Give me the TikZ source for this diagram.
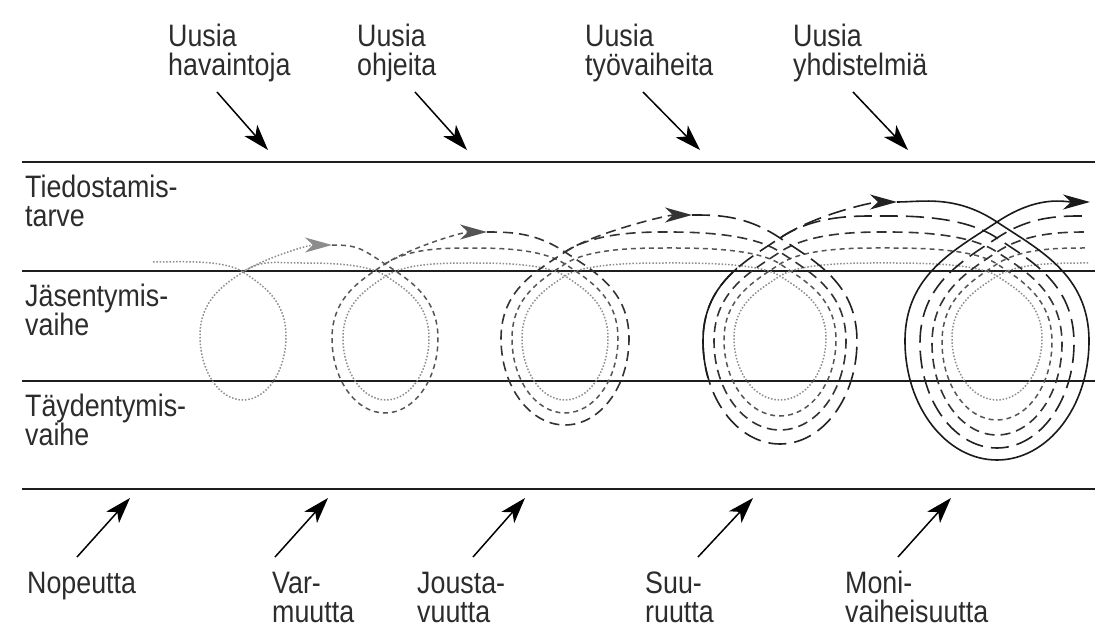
\documentclass[tikz,border=0pt]{standalone}
\usepackage{fontspec}
\setmainfont{Liberation Sans}[FakeStretch=0.865]
\usetikzlibrary{arrows.meta}
\definecolor{txtc}{HTML}{2C2C2C}
\definecolor{framec}{HTML}{1E1E1E}
\definecolor{dotc}{HTML}{8C8C8C}
\definecolor{finec}{HTML}{555555}
\definecolor{medc}{HTML}{333333}
\definecolor{longc}{HTML}{222222}
\definecolor{solc}{HTML}{1A1A1A}
% loop: cx, r, y of crossing, y of bottom, next point x, next point y
\newcommand\myloop[6]{%
 .. controls +(25,0) and +({-0.45*#2},{-0.3*#2}) .. (#1,#3)
 .. controls +({0.45*#2},{0.3*#2}) and ({#1+#2},{(#3+#4)/2-0.28*(#4-#3)}) .. ({#1+#2},{(#3+#4)/2})
 .. controls ({#1+#2},{(#3+#4)/2+0.276*(#4-#3)}) and ({#1+0.552*#2},{#4}) .. (#1,#4)
 .. controls ({#1-0.552*#2},{#4}) and ({#1-#2},{(#3+#4)/2+0.276*(#4-#3)}) .. ({#1-#2},{(#3+#4)/2})
 .. controls ({#1-#2},{(#3+#4)/2-0.28*(#4-#3)}) and +({-0.45*#2},{0.3*#2}) .. (#1,#3)
 .. controls +({0.45*#2},{-0.3*#2}) and +(-25,0) .. (#5,#6)}
\newcommand\twolines[2]{\vtop{\hbox{#1}\hbox{#2}}}
\begin{document}
\begin{tikzpicture}[x=1pt,y=-1pt,
  frame/.style={draw=framec, line width=2pt},
  lbl/.style={anchor=base west, inner sep=0pt, text=txtc, font=\fontsize{31}{29}\selectfont},
  ptr/.style={draw=black, line width=1.5pt, -{Stealth[length=26pt,width=17pt,inset=7pt]}},
  dotS/.style={draw=dotc, line width=1.5pt, dash pattern=on 1.5pt off 1.8pt},
  fineS/.style={draw=finec, line width=1.5pt, dash pattern=on 5pt off 4pt},
  medS/.style={draw=medc, line width=1.6pt, dash pattern=on 10pt off 6pt},
  longS/.style={draw=longc, line width=1.6pt, dash pattern=on 18pt off 8pt},
  solS/.style={draw=solc, line width=1.6pt},
  tipA/.style={-{Stealth[length=27pt,width=15pt,inset=8pt]}}]
\useasboundingbox (0,0) rectangle (1101,628);

% band lines
\draw[frame] (22,162) -- (1095,162);
\draw[frame] (22,271) -- (1095,271);
\draw[frame] (22,381) -- (1095,381);
\draw[frame] (22,489) -- (1095,489);

% top labels
\node[lbl] (u1) at (168,47) {\twolines{Uusia}{havaintoja}};
\node[lbl] (u2) at (357,47) {\twolines{Uusia}{ohjeita}};
\node[lbl] (u3) at (585,47) {\twolines{Uusia}{työvaiheita}};
\node[lbl] (u4) at (793,47) {\twolines{Uusia}{yhdistelmiä}};
\coordinate (a1) at (217,92); \coordinate (b1) at (268,150);
\coordinate (a2) at (415,92); \coordinate (b2) at (467,150);
\coordinate (a3) at (643,92); \coordinate (b3) at (700,150);
\coordinate (a4) at (853,92); \coordinate (b4) at (908,150);
\draw[ptr] (a1) -- (b1);
\draw[ptr] (a2) -- (b2);
\draw[ptr] (a3) -- (b3);
\draw[ptr] (a4) -- (b4);

% left labels
\node[lbl] (l1) at (25,198) {\twolines{Tiedostamis-}{tarve}};
\node[lbl] (l2) at (25,307) {\twolines{Jäsentymis-}{vaihe}};
\node[lbl] (l3) at (25,417) {\twolines{Täydentymis-}{vaihe}};

% bottom labels
\node[lbl] (d1) at (27,593) {Nopeutta};
\node[lbl] (d2) at (272,593) {\twolines{Var-}{muutta}};
\node[lbl] (d3) at (417,593) {\twolines{Jousta-}{vuutta}};
\node[lbl] (d4) at (645,593) {\twolines{Suu-}{ruutta}};
\node[lbl] (d5) at (845,593) {\twolines{Moni-}{vaiheisuutta}};
\coordinate (c1) at (77,557);  \coordinate (e1) at (130,498);
\coordinate (c2) at (275,557); \coordinate (e2) at (328,498);
\coordinate (c3) at (473,557); \coordinate (e3) at (525,498);
\coordinate (c4) at (698,557); \coordinate (e4) at (753,498);
\coordinate (c5) at (898,557); \coordinate (e5) at (951,498);
\draw[ptr] (c1) -- (e1);
\draw[ptr] (c2) -- (e2);
\draw[ptr] (c3) -- (e3);
\draw[ptr] (c4) -- (e4);
\draw[ptr] (c5) -- (e5);

% continuing strands of each stage
\draw[dotS] (243,272) .. controls +(19.35,-12.9) and +(-25,0) .. (300,263)
  \myloop{386}{43}{276}{400}{470}{263}
  \myloop{565}{43}{276}{400}{665}{263}
  \myloop{780}{46}{276}{400}{885}{263}
  \myloop{997}{45}{276}{400}{1088}{263};
\draw[fineS] (385,264) .. controls +(23.85,-15.9) and +(-25,0) .. (470,248)
  \myloop{565}{53}{264}{413}{665}{248}
  \myloop{780}{56}{264}{416}{885}{248}
  \myloop{997}{55}{264}{420}{1088}{248};
\draw[medS] (565,252) .. controls +(28.8,-19.2) and +(-25,0) .. (665,232)
  \myloop{780}{66}{252}{430}{885}{232}
  \myloop{997}{65}{252}{435}{1088}{232};
\draw[longS] (780,238) .. controls +(34.65,-23.1) and +(-25,0) .. (880,216)
  \myloop{997}{77}{238}{448}{1088}{216};

% main spiral, one stage per loop
\draw[dotS, tipA] (153,262) \myloop{243}{43}{272}{400}{332}{245};
\draw[fineS, tipA] (332,245) \myloop{385}{53}{264}{413}{487}{232};
\draw[medS, tipA] (487,232) \myloop{565}{64}{252}{425}{692}{215};
\draw[longS, tipA] (692,215) \myloop{780}{77}{238}{444}{897}{202};
\draw[solS, tipA] (897,202) \myloop{997}{92}{222}{460}{1090}{202};
\begin{scope}
  \clip (695,262) rectangle (737,378);
  \draw[solS] (692,215) \myloop{780}{77}{238}{444}{897}{202};
\end{scope}
\end{tikzpicture}
\end{document}
